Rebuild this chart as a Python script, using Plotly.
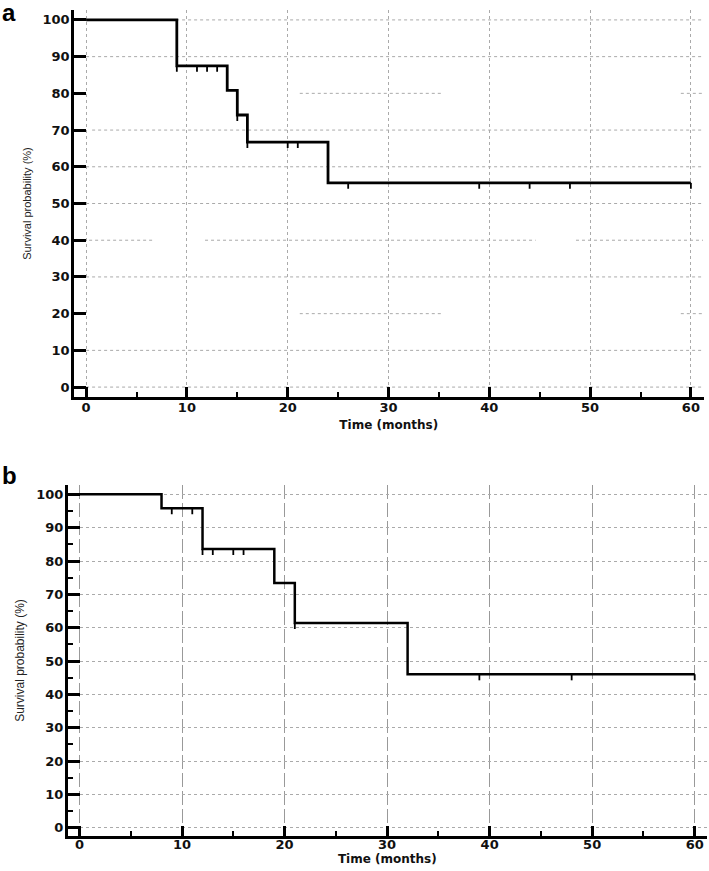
import numpy as np
import plotly.graph_objects as go

# ---------------- data ----------------
# Panel a
a_event_times = [0, 9, 14, 15, 16, 24, 60]
a_survival = [100, 87.5, 80.8, 74.1, 66.7, 55.6, 55.6]
a_censor_times = [9, 11, 12, 13, 15, 16, 20, 21, 26, 39, 44, 48, 60]

# Panel b
b_event_times = [0, 8, 12, 19, 21, 32, 60]
b_survival = [100, 95.8, 83.6, 73.4, 61.4, 46.0, 46.0]
b_censor_times = [9, 11, 12, 13, 15, 16, 21, 39, 48, 60]

x_ticks = [0, 10, 20, 30, 40, 50, 60]
y_ticks = [0, 10, 20, 30, 40, 50, 60, 70, 80, 90, 100]
x_title = "Time (months)"
y_title = "Survival probability (%)"


def surv_at(times, event_times, survival):
    idx = np.searchsorted(np.array(event_times), np.array(times), side="right") - 1
    return [survival[i] for i in idx]


W, H = 709, 871
fig = go.Figure()

# KM step curves
fig.add_trace(go.Scatter(x=a_event_times, y=a_survival, mode="lines",
                         line=dict(shape="hv", color="black", width=2.8),
                         xaxis="x", yaxis="y", showlegend=False))
fig.add_trace(go.Scatter(x=a_censor_times, y=surv_at(a_censor_times, a_event_times, a_survival),
                         mode="markers", marker=dict(size=1, color="black"),
                         error_y=dict(type="constant", value=0, valueminus=1.6, symmetric=False,
                                      width=0, thickness=1.8, color="black"),
                         xaxis="x", yaxis="y", showlegend=False))

fig.add_trace(go.Scatter(x=b_event_times, y=b_survival, mode="lines",
                         line=dict(shape="hv", color="black", width=2.5),
                         xaxis="x2", yaxis="y2", showlegend=False))
fig.add_trace(go.Scatter(x=b_censor_times, y=surv_at(b_censor_times, b_event_times, b_survival),
                         mode="markers", marker=dict(size=1, color="black"),
                         error_y=dict(type="constant", value=0, valueminus=1.8, symmetric=False,
                                      width=0, thickness=1.8, color="black"),
                         xaxis="x2", yaxis="y2", showlegend=False))

tick_font = dict(family="DejaVu Sans", size=13, color="#111", weight="bold")
xtitle_font = dict(family="DejaVu Sans", size=12, color="#111", weight="bold")

# panel a partial horizontal grid (dotted) : levels drawn fully except a few
a_partial = {80: [(21.2, 35.3), (59, 61.2)],
             40: [(0.3, 6.8), (11.8, 44.6), (48.6, 61.2)],
             20: [(21.2, 35.3), (59, 61.2)],
             70: [(0.6, 61.2)]}
shapes = []
for lev in y_ticks:
    segs = a_partial.get(lev, [(0, 61.2)])
    for (s, e) in segs:
        shapes.append(dict(type="line", xref="x", yref="y", x0=s, x1=e, y0=lev, y1=lev,
                           line=dict(color="#aaaaaa", width=1, dash="dot"), layer="below"))

common_axis = dict(zeroline=False, showline=True, linecolor="black", linewidth=2.6,
                   tickcolor="black", tickwidth=2.6, ticks="inside", automargin=False)

fig.update_layout(
    width=W, height=H, margin=dict(l=0, r=0, t=0, b=0),
    paper_bgcolor="white", plot_bgcolor="white",
    shapes=shapes,
    xaxis=dict(common_axis, domain=[74 / W, 703.5 / W], anchor="y", range=[-1.2, 61.25],
               tickvals=x_ticks, showgrid=True, gridcolor="#aaaaaa", griddash="dot", gridwidth=1,
               ticklen=10,
               minor=dict(ticks="inside", ticklen=5, tickwidth=1.8, tickcolor="black",
                          dtick=5, tick0=0, showgrid=False),
               tickfont=tick_font, ticklabelstandoff=-3,
               title=dict(text=x_title, font=xtitle_font, standoff=7)),
    yaxis=dict(common_axis, domain=[1 - 397 / H, 1 - 10 / H], anchor="x", range=[-2.7, 102.7],
               tickvals=y_ticks, showgrid=False, ticklen=12,
               tickfont=tick_font, ticklabelstandoff=-1,
               title=dict(text=y_title, font=dict(family="Liberation Sans", size=11, color="#222"),
                          standoff=9)),
    xaxis2=dict(common_axis, domain=[67.7 / W, 707 / W], anchor="y2", range=[-1.15, 61.2],
                tickvals=x_ticks, showgrid=True, gridcolor="#999999", griddash="14px,4px", gridwidth=1,
                ticklen=10,
                minor=dict(ticks="inside", ticklen=5, tickwidth=1.8, tickcolor="black",
                           dtick=5, tick0=0, showgrid=False),
                tickfont=tick_font, ticklabelstandoff=-5,
                title=dict(text=x_title, font=xtitle_font, standoff=0)),
    yaxis2=dict(common_axis, domain=[1 - 836 / H, 1 - 485 / H], anchor="x2", range=[-2.5, 102.8],
                tickvals=y_ticks, showgrid=True, gridcolor="#aaaaaa", griddash="dot", gridwidth=1,
                ticklen=12,
                minor=dict(ticks="inside", ticklen=5, tickwidth=1.8, tickcolor="black",
                           dtick=5, tick0=0, showgrid=False),
                tickfont=tick_font, ticklabelstandoff=-1,
                title=dict(text=y_title, font=dict(family="Liberation Sans", size=12, color="#222"),
                           standoff=9)),
    annotations=[
        dict(text="<b>a</b>", x=0, y=1.003, xref="paper", yref="paper", xanchor="left", yanchor="top",
             showarrow=False, font=dict(family="Liberation Sans", size=24, color="black")),
        dict(text="<b>b</b>", x=0, y=1 - 460 / H, xref="paper", yref="paper", xanchor="left",
             yanchor="top", showarrow=False, font=dict(family="Liberation Sans", size=24, color="black")),
    ],
)

fig.write_html("out.html", config={"displayModeBar": False},
               post_script="document.body.style.margin='0';document.body.style.overflow='hidden';")
